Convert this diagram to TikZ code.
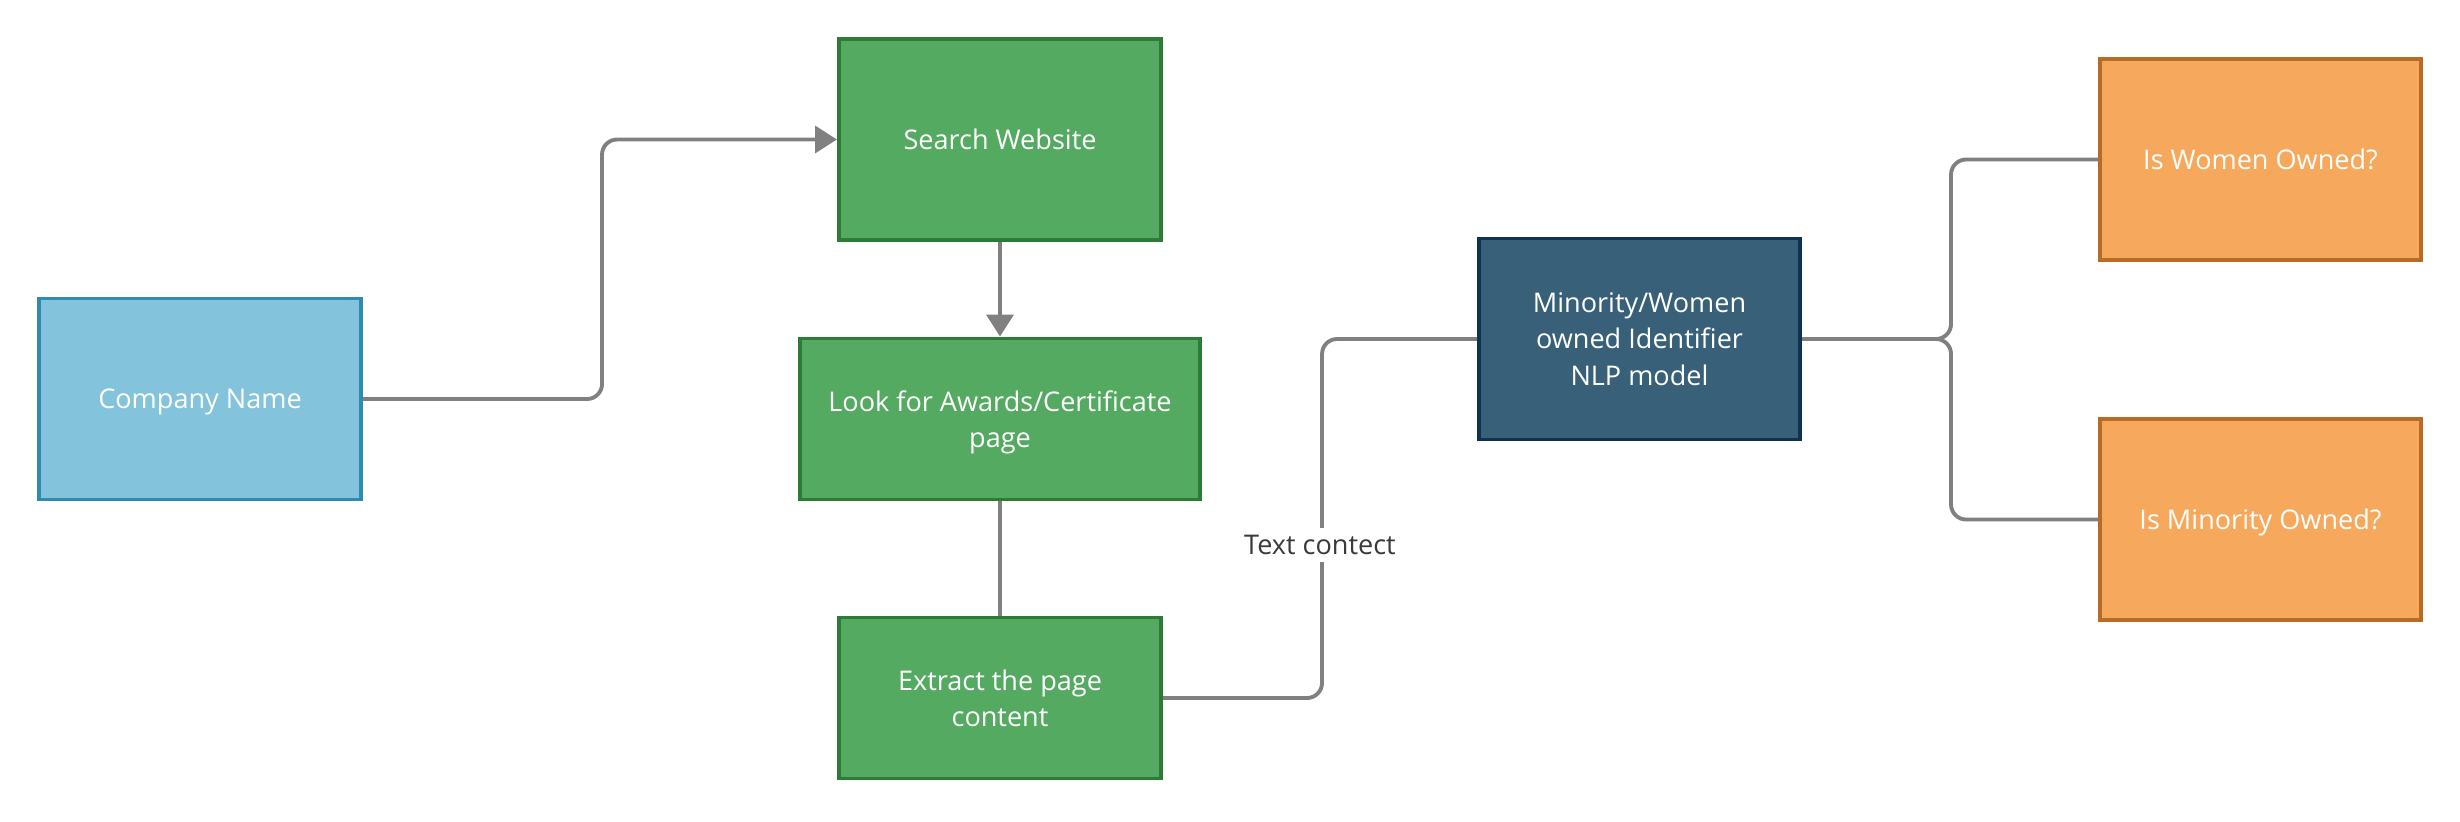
\documentclass[tikz,border=0pt]{standalone}
\usepackage{fontspec}
\setmainfont{Open Sans}
\usetikzlibrary{arrows.meta}
\definecolor{bluefill}{HTML}{84C3DC}
\definecolor{blueline}{HTML}{2E8AB0}
\definecolor{greenfill}{HTML}{55AA61}
\definecolor{greenline}{HTML}{2E7A37}
\definecolor{navyfill}{HTML}{386179}
\definecolor{navyline}{HTML}{0E3250}
\definecolor{orangefill}{HTML}{F6A85C}
\definecolor{orangeline}{HTML}{B86B24}
\definecolor{conngray}{HTML}{808080}
\definecolor{labelgray}{HTML}{3A3A3A}
\tikzset{
  box/.style={draw, line width=1.1pt, inner sep=0pt, align=center, text=white,
    text depth=0pt, font=\fontsize{7.7}{10.4}\selectfont},
  bluebox/.style={box, fill=bluefill, draw=blueline},
  greenbox/.style={box, fill=greenfill, draw=greenline},
  navybox/.style={box, fill=navyfill, draw=navyline},
  orangebox/.style={box, fill=orangefill, draw=orangeline},
  conn/.style={draw=conngray, line width=1.1pt, rounded corners=0.15cm},
  tip/.style={-{Triangle[length=6.2pt,width=7.6pt]}, conngray},
  lbl/.style={fill=white, text=labelgray, inner sep=2pt, font=\fontsize{7.7}{10.4}\selectfont}
}
\begin{document}
\begin{tikzpicture}[x=0.01cm,y=-0.01cm]
\useasboundingbox (0,0) rectangle (2460,821);
\node[bluebox, minimum width=3.22cm, minimum height=2.01cm] (company) at (200,399) {Company Name};
\node[greenbox, minimum width=3.22cm, minimum height=2.01cm] (search) at (1000,139.5) {Search Website};
\node[greenbox, minimum width=4.0cm, minimum height=1.61cm] (look) at (1000,419) {Look for Awards/Certificate\\page};
\node[greenbox, minimum width=3.22cm, minimum height=1.61cm] (extract) at (1000,698) {Extract the page\\content};
\node[navybox, minimum width=3.21cm, minimum height=2.01cm] (nlp) at (1639.5,339) {Minority/Women\\owned Identifier\\NLP model};
\node[orangebox, minimum width=3.21cm, minimum height=2.01cm] (women) at (2260.5,159.5) {Is Women Owned?};
\node[orangebox, minimum width=3.21cm, minimum height=2.01cm] (minority) at (2260.5,519.5) {Is Minority Owned?};

\draw[conn, tip] (company.east) -- ++(239,0) |- (search.west);
\draw[conn, tip] (search.south) -- (look.north);
\draw[conn] (look.south) -- (extract.north);
\draw[conn] (extract.east) -- ++(159,0) |- (nlp.west);
\draw[conn] (nlp.east) -- ++(149,0) |- (women.west);
\draw[conn] (nlp.east) -- ++(149,0) |- (minority.west);
\node[lbl] (textcontect) at (1320,545) {Text contect};
\end{tikzpicture}
\end{document}
